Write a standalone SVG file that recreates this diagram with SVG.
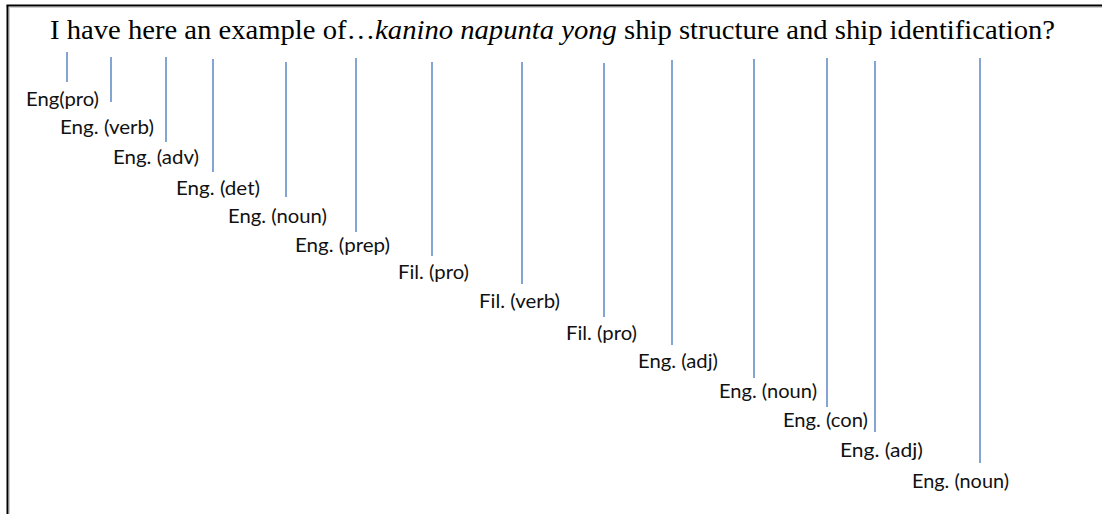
<svg xmlns="http://www.w3.org/2000/svg" width="1102" height="514" viewBox="0 0 1102 514">
<style>
.frame{stroke:#000;stroke-width:2;fill:none}
.shade{stroke:#cfcfcf;stroke-width:1;fill:none}
.title{font-family:"Liberation Serif","Times New Roman",serif;font-size:27px;fill:#000}
.lbl{font-family:Lato,"Liberation Sans",sans-serif;font-size:20px;fill:#111}
.conn line{stroke:#5b87c5;stroke-width:1.5}
</style>
<rect width="1102" height="514" fill="#fff"/>
<g id="frame">
<line class="frame" x1="7.5" y1="5.5" x2="7.5" y2="514"/>
<line class="frame" x1="6.5" y1="5.5" x2="1102" y2="5.5"/>
<line class="shade" x1="9.5" y1="7" x2="9.5" y2="514"/>
<line class="shade" x1="9" y1="7.5" x2="1102" y2="7.5"/>
</g>
<g id="title">
<text class="title" x="50" y="39" textLength="1005" lengthAdjust="spacingAndGlyphs">I have here an example of…<tspan font-style="italic">kanino napunta yong</tspan> ship structure and ship identification?</text>
</g>
<g id="connectors" class="conn">
<line x1="67" y1="52" x2="67" y2="82"/>
<line x1="111" y1="57" x2="111" y2="102"/>
<line x1="166" y1="57" x2="166" y2="142"/>
<line x1="213" y1="59" x2="213" y2="172"/>
<line x1="286" y1="62" x2="286" y2="197"/>
<line x1="356" y1="58" x2="356" y2="232"/>
<line x1="432" y1="62" x2="432" y2="256"/>
<line x1="522" y1="62" x2="522" y2="284"/>
<line x1="604" y1="63" x2="604" y2="317"/>
<line x1="672" y1="60" x2="672" y2="345"/>
<line x1="754" y1="59" x2="754" y2="378"/>
<line x1="827" y1="58" x2="827" y2="407"/>
<line x1="875" y1="61" x2="875" y2="432"/>
<line x1="980" y1="58" x2="980" y2="463"/>
</g>
<g id="n1"><text class="lbl" x="26" y="106" textLength="73" lengthAdjust="spacingAndGlyphs">Eng(pro)</text></g>
<g id="n2"><text class="lbl" x="60" y="134" textLength="94" lengthAdjust="spacingAndGlyphs">Eng. (verb)</text></g>
<g id="n3"><text class="lbl" x="113" y="164" textLength="86" lengthAdjust="spacingAndGlyphs">Eng. (adv)</text></g>
<g id="n4"><text class="lbl" x="176" y="195" textLength="84" lengthAdjust="spacingAndGlyphs">Eng. (det)</text></g>
<g id="n5"><text class="lbl" x="228" y="223" textLength="99" lengthAdjust="spacingAndGlyphs">Eng. (noun)</text></g>
<g id="n6"><text class="lbl" x="295" y="252" textLength="95" lengthAdjust="spacingAndGlyphs">Eng. (prep)</text></g>
<g id="n7"><text class="lbl" x="398" y="279" textLength="71" lengthAdjust="spacingAndGlyphs">Fil. (pro)</text></g>
<g id="n8"><text class="lbl" x="479" y="308" textLength="81" lengthAdjust="spacingAndGlyphs">Fil. (verb)</text></g>
<g id="n9"><text class="lbl" x="566" y="340" textLength="71" lengthAdjust="spacingAndGlyphs">Fil. (pro)</text></g>
<g id="n10"><text class="lbl" x="638" y="368" textLength="80" lengthAdjust="spacingAndGlyphs">Eng. (adj)</text></g>
<g id="n11"><text class="lbl" x="719" y="398" textLength="98" lengthAdjust="spacingAndGlyphs">Eng. (noun)</text></g>
<g id="n12"><text class="lbl" x="783" y="427" textLength="85" lengthAdjust="spacingAndGlyphs">Eng. (con)</text></g>
<g id="n13"><text class="lbl" x="840" y="457" textLength="83" lengthAdjust="spacingAndGlyphs">Eng. (adj)</text></g>
<g id="n14"><text class="lbl" x="912" y="488" textLength="97" lengthAdjust="spacingAndGlyphs">Eng. (noun)</text></g>
</svg>
